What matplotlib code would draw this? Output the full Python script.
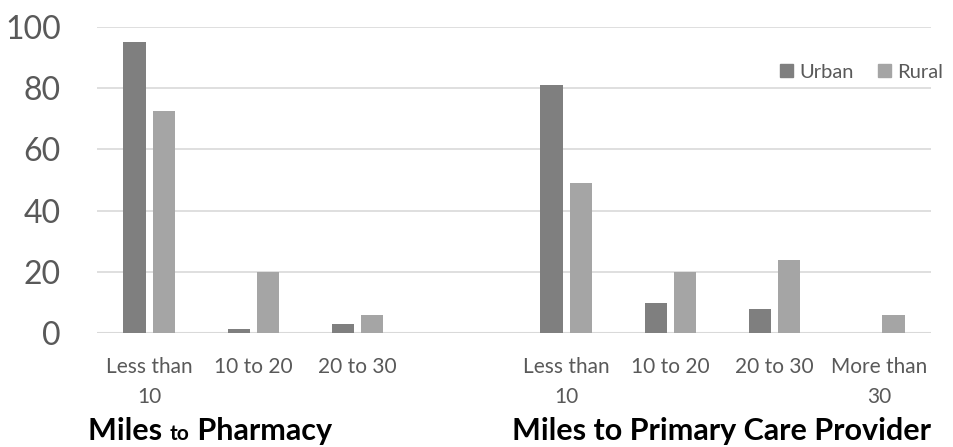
"""
Distance to pharmacy and primary care provider, urban vs rural respondents.
"""

import matplotlib.pyplot as plt
from matplotlib.patches import Patch

# 슬롯 8개: 약국 3개 + 빈 칸 1개 + 1차 진료 4개
categories = ['Less than\n10', '10 to 20', '20 to 30', '',
              'Less than\n10', '10 to 20', '20 to 30', 'More than\n30']
urban = [95, 1.3, 3, 0, 81, 10, 8, 0]
rural = [72.5, 20, 6, 0, 49, 20, 24, 6]
y_ticks = [0, 20, 40, 60, 80, 100]

URBAN_COLOR = '#7f7f7f'
RURAL_COLOR = '#a5a5a5'
TEXT_COLOR = '#595959'
GRID_COLOR = '#d9d9d9'

plt.rcParams['font.family'] = ['Lato', 'DejaVu Sans']

fig = plt.figure(figsize=(9.54, 4.47), dpi=100)
ax = fig.add_axes([97 / 954, 1 - 333.3 / 447, 834 / 954, 306.6 / 447])

x = list(range(len(categories)))
width = 0.215
offset = 0.14
ax.bar([i - offset for i in x], urban, width, color=URBAN_COLOR, zorder=3)
ax.bar([i + offset for i in x], rural, width, color=RURAL_COLOR, zorder=3)

ax.set_xlim(-0.5, len(categories) - 0.5)
ax.set_ylim(0, 100)
ax.set_yticks(y_ticks)
ax.set_xticks(x)
ax.set_xticklabels(categories, linespacing=1.6)

for v in y_ticks:
    ax.axhline(v, color=GRID_COLOR, linewidth=1.5 if v == 0 else 1.2, zorder=1)

for side in ax.spines.values():
    side.set_visible(False)

ax.tick_params(axis='y', length=0, pad=26, labelsize=23, labelcolor=TEXT_COLOR)
ax.tick_params(axis='x', length=0, pad=17, labelsize=15, labelcolor=TEXT_COLOR)

# 범례
handles = [Patch(color=URBAN_COLOR, label='Urban'),
           Patch(color=RURAL_COLOR, label='Rural')]
fig.legend(handles=handles, loc='center left',
           bbox_to_anchor=(780 / 954, 1 - 72 / 447), ncol=2, frameon=False,
           fontsize=14.5, labelcolor=TEXT_COLOR, handlelength=0.65,
           handleheight=0.65, handletextpad=0.3, columnspacing=1.2,
           borderpad=0, borderaxespad=0)


def draw_title(parts, center_x, baseline_y):
    """굵은 글씨와 작은 글씨가 섞인 그룹 제목을 가운데 정렬로 그린다"""
    renderer = fig.canvas.get_renderer()
    texts = []
    for s, size in parts:
        t = fig.text(0, baseline_y, s, fontsize=size, fontweight='bold',
                     color='black', va='baseline', ha='left')
        texts.append(t)
    widths = [t.get_window_extent(renderer).width for t in texts]
    total = sum(widths)
    cursor = center_x * 954 - total / 2
    for t, w in zip(texts, widths):
        t.set_x(cursor / 954)
        cursor += w


draw_title([('Miles ', 22), ('to', 15), (' Pharmacy', 22)],
           210 / 954, 1 - 440 / 447)
draw_title([('Miles to Primary Care Provider', 22)],
           722 / 954, 1 - 440 / 447)

plt.savefig('out.png', dpi=100)
